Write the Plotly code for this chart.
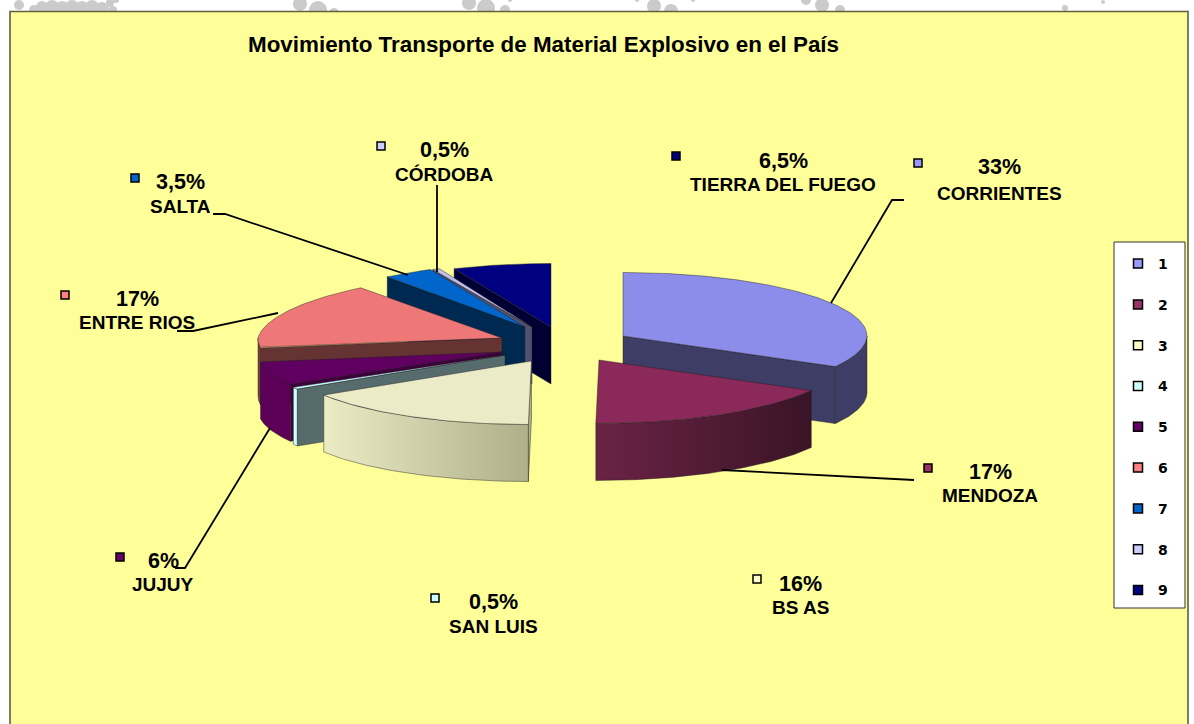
import math
import numpy as np
import plotly.graph_objects as go

# ---- data ----
legend_labels = ["1", "2", "3", "4", "5", "6", "7", "8", "9"]
provinces = ["CORRIENTES", "MENDOZA", "BS AS", "SAN LUIS", "JUJUY",
             "ENTRE RIOS", "SALTA", "CÓRDOBA", "TIERRA DEL FUEGO"]
percent = [33, 17, 16, 0.5, 6, 17, 3.5, 0.5, 6.5]
title_text = "Movimiento Transporte de Material Explosivo en el País"

# ---- styles ----
legend_colors = ["#9999FF", "#993366", "#FFFFCC", "#CCFFFF", "#660066",
                 "#FF8080", "#0066CC", "#CCCCFF", "#000080"]
top_colors = ["#8C8CEB", "#8B2A5A", "#EBEBC8", "#CCFFFF", "#5F0060",
              "#EE7878", "#0066CC", "#BEBEEE", "#000080"]
rim_colors = ["#3D3D66", "#5A1F40", "#D0D0A8", "#CCFFFF", "#5C0058",
              "#7A4040", "#002952", "#525270", "#000033"]
face_colors = ["#3D3D66", "#3D1428", "#B0B090", "#566B6B", "#3D003D",
               "#663333", "#002952", "#525270", "#000033"]
rim_gradients = {1: ["#6B2346", "#3A1426"], 2: ["#EBEBC4", "#AFAF8A"]}

# ---- layout geometry (page pixels) ----
apex_x = [623, 599, 531.5, 505, 502, 502, 525, 532, 551]
apex_y = [336, 360, 361, 355, 352, 338, 327, 327, 327]
persp_k = [0, 0, 0, 0, 0, 0.07, 0.1, 0.05, 0]
A, B, DEPTH = 244, 63.5, 57
draw_order = [0, 8, 7, 6, 5, 4, 3, 2, 1]
marker_x = [918, 928, 757, 435, 120, 65, 135, 381, 676]
marker_y = [163, 468, 579, 598, 557, 295, 178, 146, 156]
label_x = [999, 990, 800, 493, 163, 137, 180, 444, 783]
pct_y = [167, 472, 584, 602, 561, 299, 182, 150, 161]
name_y = [193, 495, 607, 626, 584, 322, 206, 174, 184]
leaders = [
    ([904, 892, 831], [200, 200, 303]),
    ([914, 722], [480, 470]),
    ([175, 185, 270], [568, 568, 428]),
    ([177, 193, 278], [331, 331, 313]),
    ([213, 225, 408], [214, 214, 275]),
    ([437, 437], [185, 272]),
]
blobs = [(19, 5, 5), (34, 10, 5), (42, 7, 6), (52, 7, 7), (62, 8, 7), (72, 7, 7), (82, 8, 7),
         (92, 7, 7), (102, 9, 7), (110, 3, 4), (113, 10, 4), (116, 0, 3), (300, 4, 7), (318, 10, 9),
         (334, 13, 5), (469, 3, 7), (486, 8, 9), (505, 10, 5), (510, 0, 2), (637, 0, 2),
         (654, 6, 7), (671, 11, 7), (693, 0, 2), (806, 0, 5), (822, 5, 7), (840, 10, 5),
         (1065, 8, 3), (1082, 14, 3), (1103, 2, 2)]


def rim_point(i, deg):
    t = math.radians(deg)
    s, c = math.sin(t), math.cos(t)
    persp = 1 - persp_k[i] * max(c, 0)
    x = apex_x[i] + A * s * persp - 0.05 * B * max(-c, 0)
    y = apex_y[i] - B * c
    return x, y


def arc(i, a0, a1):
    n = max(3, int(abs(a1 - a0) * 1.5) + 2)
    pts = [rim_point(i, d) for d in np.linspace(a0, a1, n)]
    return [p[0] for p in pts], [p[1] for p in pts]


edges = np.concatenate([[0], np.cumsum(percent)]) * 3.6
fig = go.Figure()


def poly(xs, ys, color, line="rgba(30,30,30,0.55)", grad=None):
    kw = dict(fillcolor=color)
    if grad:
        kw = dict(fillgradient=dict(type="horizontal",
                                    colorscale=[[0, grad[0]], [1, grad[1]]]))
    fig.add_trace(go.Scatter(x=list(xs) + [xs[0]], y=list(ys) + [ys[0]], mode="lines", fill="toself",
                             line=dict(color=line, width=0.8), showlegend=False,
                             hoverinfo="skip", **kw))


for i in draw_order:
    a0, a1 = float(edges[i]), float(edges[i + 1])
    ax, ay = apex_x[i], apex_y[i]
    # radial face turned towards the viewer
    deg = a1 if a1 <= 180 else a0
    if a1 < 170 or a0 >= 180:
        px, py = rim_point(i, deg)
        poly([ax, px, px, ax], [ay, py, py + DEPTH, ay + DEPTH], face_colors[i])
    # outer wall, front half of the rim only
    r0, r1 = max(a0, 90), min(a1, 270)
    if r1 > r0:
        xs, ys = arc(i, r0, r1)
        poly(xs + xs[::-1], ys + [y + DEPTH for y in ys[::-1]], rim_colors[i],
             grad=rim_gradients.get(i))
    # top face
    xs, ys = arc(i, a0, a1)
    poly([ax] + xs, [ay] + ys, top_colors[i])

for lx, ly in leaders:
    fig.add_trace(go.Scatter(x=lx, y=ly, mode="lines", line=dict(color="black", width=1.8),
                             showlegend=False, hoverinfo="skip"))

fig.add_trace(go.Scatter(x=marker_x, y=marker_y, mode="markers", showlegend=False, hoverinfo="skip",
                         marker=dict(symbol="square", size=8, color=legend_colors,
                                     line=dict(color="black", width=1.5))))

# legend entries
for name, col in zip(legend_labels, legend_colors):
    fig.add_trace(go.Scatter(x=[None], y=[None], mode="markers", name=name, legendgroup=name,
                             marker=dict(symbol="square", size=9, color=col,
                                         line=dict(color="black", width=1.5))))

annots = [dict(x=543, y=44, text="<b>%s</b>" % title_text, showarrow=False, xanchor="center",
               yanchor="middle", font=dict(family="Liberation Sans", size=22.4, color="black"))]
for i, name in enumerate(provinces):
    pct = ("%g" % percent[i]).replace(".", ",") + "%"
    annots.append(dict(x=label_x[i], y=pct_y[i], text="<b>%s</b>" % pct, showarrow=False,
                       xanchor="center", yanchor="middle",
                       font=dict(family="Liberation Sans", size=21.5, color="black")))
    annots.append(dict(x=label_x[i], y=name_y[i], text="<b>%s</b>" % name, showarrow=False,
                       xanchor="center", yanchor="middle",
                       font=dict(family="Liberation Sans", size=19, color="black")))

shapes = [dict(type="circle", xref="x", yref="y", x0=x - r, x1=x + r, y0=y - r, y1=y + r,
               fillcolor="#CBCBCB", line=dict(width=0), layer="below") for x, y, r in blobs]
shapes.append(dict(type="rect", xref="x", yref="y", x0=10, x1=1188, y0=11.5, y1=740,
                   fillcolor="#FFFF99", line=dict(color="#5F5F42", width=1.6), layer="below"))
shapes.append(dict(type="rect", xref="x", yref="y", x0=1114, x1=1185, y0=242, y1=608,
                   fillcolor="white", line=dict(color="#333333", width=1), layer="below"))

fig.update_layout(
    width=1194, height=724, autosize=False,
    margin=dict(l=0, r=0, t=0, b=0), paper_bgcolor="white", plot_bgcolor="white",
    xaxis=dict(range=[0, 1194], visible=False, fixedrange=True),
    yaxis=dict(range=[724, 0], visible=False, fixedrange=True),
    annotations=annots, shapes=shapes,
    legend=dict(x=1118 / 1194, y=1 - 248 / 724, xanchor="left", yanchor="top",
                bgcolor="rgba(0,0,0,0)", borderwidth=0,
                tracegroupgap=19.6, itemwidth=30, traceorder="grouped",
                font=dict(family="DejaVu Sans", size=14, weight=700, color="black")),
)

fig.write_html("out.html", config={"displayModeBar": False},
               post_script="document.body.style.margin='0';document.documentElement.style.overflow='hidden';")
